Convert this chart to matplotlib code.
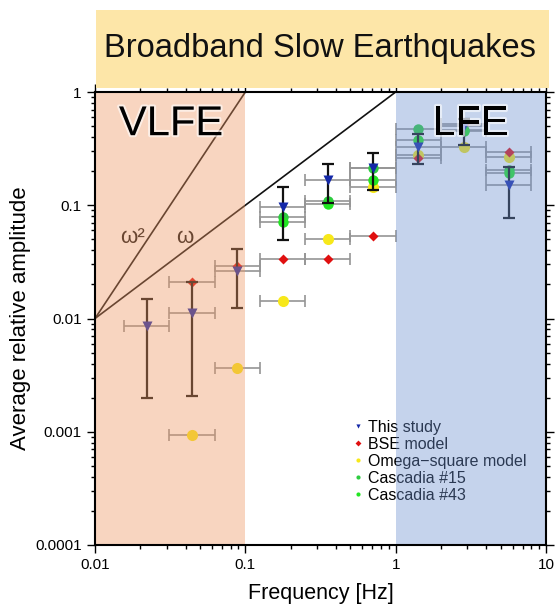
import matplotlib
matplotlib.use("Agg")
import matplotlib.pyplot as plt
import numpy as np
from matplotlib.patches import Rectangle
from matplotlib.lines import Line2D
import matplotlib.patheffects as pe

plt.rcParams['font.family'] = ['Liberation Sans', 'DejaVu Sans']

# ---- data ----
freq = [0.0221, 0.0442, 0.0884, 0.177, 0.354, 0.707, 1.414, 2.83, 5.66]
f_lo = [0.0156, 0.03125, 0.0625, 0.125, 0.25, 0.5, 1.0, 2.0, 4.0]
f_hi = [0.03125, 0.0625, 0.125, 0.25, 0.5, 1.0, 2.0, 4.0, 8.0]

study_amp = [0.0085, 0.0112, 0.0265, 0.096, 0.168, 0.212, 0.325, 0.505, 0.151]
study_lo = [0.00197, 0.00207, 0.0124, 0.0489, 0.105, 0.135, 0.232, 0.34, 0.077]
study_hi = [0.0149, 0.021, 0.041, 0.144, 0.232, 0.288, 0.424, 0.58, 0.219]

bse_idx = [1, 2, 3, 4, 5, 6, 7, 8]
bse_amp = [0.021, 0.0288, 0.0337, 0.0337, 0.0533, 0.26, 0.52, 0.298]

omega_idx = [1, 2, 3, 4, 5, 6, 7, 8]
omega_amp = [0.00093, 0.00366, 0.0142, 0.0503, 0.146, 0.278, 0.33, 0.269]

casc_idx = [3, 4, 5, 6, 7, 8]
casc15_amp = [0.0795, 0.108, 0.212, 0.469, 0.463, 0.205]
casc43_amp = [0.0718, 0.103, 0.168, 0.377, 0.45, 0.192]

legend_labels = ["This study", "BSE model", "Omega\u2212square model", "Cascadia #15", "Cascadia #43"]

# ---- figure ----
W, H = 555, 604
fig = plt.figure(figsize=(W / 100, H / 100), dpi=100)
ax = fig.add_axes([95 / W, 1 - 545 / H, (546 - 95) / W, (545 - 92) / H])

# title box
fig.patches.append(Rectangle((96 / W, 1 - 88 / H), (549 - 96) / W, (88 - 10) / H,
                             transform=fig.transFigure, facecolor='#fde6a8',
                             edgecolor='none', zorder=0))
fig.text(320 / W, 1 - 49 / H, "Broadband Slow Earthquakes", ha='center', va='center',
         fontsize=23.5, color='#111111')

ax.set_xscale('log')
ax.set_yscale('log')
ax.set_xlim(0.01, 10)
ax.set_ylim(0.0001, 1)

fa = np.array(freq)

def xerr_for(idx):
    c = fa[idx]
    lo = c - np.array(f_lo)[idx]
    hi = np.array(f_hi)[idx] - c
    return [lo, hi]

gray = '#959595'
# horizontal bars
for idx, amps in [(list(range(9)), study_amp), (bse_idx, bse_amp), (omega_idx, omega_amp),
                  (casc_idx, casc15_amp), (casc_idx, casc43_amp)]:
    ax.errorbar(fa[idx], amps, xerr=xerr_for(idx), fmt='none', ecolor=gray, elinewidth=1.2,
                capsize=4, capthick=1.2, zorder=2)

# omega lines
fl = np.array([0.01, 1.0])
ax.plot(fl, fl, color='#111111', lw=1.2, zorder=2.5)
fl2 = np.array([0.01, 0.1])
ax.plot(fl2, 100 * fl2 ** 2, color='#111111', lw=1.2, zorder=2.5)
ax.text(0.0178, 0.052, "\u03c9\u00b2", fontsize=16, color='#111111', ha='center', va='center', zorder=3)
ax.text(0.0395, 0.052, "\u03c9", fontsize=16, color='#111111', ha='center', va='center', zorder=3)

ax.plot(fa[omega_idx], omega_amp, 'o', color='#f7e81a', ms=8, mec='none', zorder=3)
ax.plot(fa[bse_idx], bse_amp, 'D', color='#e01010', ms=5.5, mec='none', zorder=3.1)
ax.plot(fa[casc_idx], casc15_amp, 'o', color='#2ecc40', ms=7.5, mec='none', zorder=3.2)
ax.plot(fa[casc_idx], casc43_amp, 'o', color='#22e622', ms=7.5, mec='none', zorder=3.3)

sa = np.array(study_amp)
ax.errorbar(fa, sa, yerr=[sa - np.array(study_lo), np.array(study_hi) - sa], fmt='none',
            ecolor='#111111', elinewidth=1.6, capsize=4, capthick=1.6, zorder=4)
ax.plot(fa, sa, 'v', color='#1428a8', ms=7.5, mec='none', zorder=5)

# legend
colors = ['#1428a8', '#e01010', '#f7e81a', '#2ecc40', '#22e622']
markers = ['v', 'D', 'o', 'o', 'o']
handles = [Line2D([], [], ls='none', marker=m, color=c, ms=3, mec='none') for m, c in zip(markers, colors)]
leg = ax.legend(handles, legend_labels, loc='upper left', bbox_to_anchor=(354 / W, 1 - 420 / H),
                bbox_transform=fig.transFigure, frameon=False, fontsize=11.5, handlelength=0.5,
                handletextpad=0.35, labelspacing=0.12, borderpad=0, borderaxespad=0)
leg.set_zorder(3)

# shaded regions overlaying
ax.axvspan(0.01, 0.1, color='#ee9662', alpha=0.4, lw=0, zorder=10)
ax.axvspan(1, 10, color='#6e91d0', alpha=0.4, lw=0, zorder=10)

ax.text(0.032, 0.52, "VLFE", fontsize=30, ha='center', va='center', color='black', zorder=12,
        path_effects=[pe.withStroke(linewidth=3, foreground='white', alpha=0.6)])
ax.text(3.15, 0.52, "LFE", fontsize=30, ha='center', va='center', color='black', zorder=12,
        path_effects=[pe.withStroke(linewidth=3, foreground='white', alpha=0.6)])

for s in ax.spines.values():
    s.set_zorder(20)
    s.set_linewidth(1.5)

ax.tick_params(which='both', direction='out', top=True, right=True, labelsize=11, width=1)
ax.tick_params(which='major', length=6)
ax.tick_params(which='minor', length=3)
ax.set_xticks([0.01, 0.1, 1, 10])
ax.set_xticklabels(['0.01', '0.1', '1', '10'])
ax.set_yticks([0.0001, 0.001, 0.01, 0.1, 1])
ax.set_yticklabels(['0.0001', '0.001', '0.01', '0.1', '1'])
ax.set_xlabel("Frequency [Hz]", fontsize=15.5, labelpad=8)
ax.set_ylabel("Average relative amplitude", fontsize=16, labelpad=3)

fig.savefig("out.png", dpi=100)
